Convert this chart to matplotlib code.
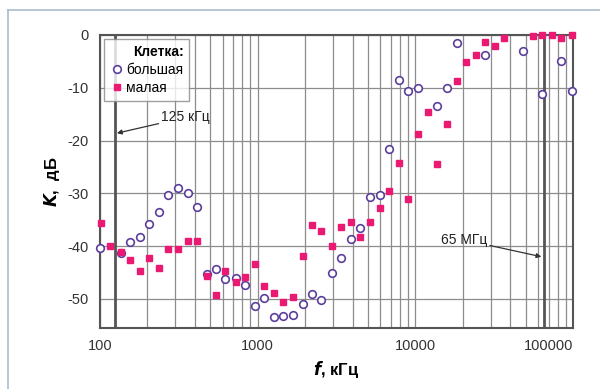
import numpy as np
import matplotlib.pyplot as plt
from matplotlib.lines import Line2D

plt.rcParams['font.family'] = ['Liberation Sans Narrow', 'Liberation Sans', 'DejaVu Sans']

# Data (kHz, dB)
f_big = [100, 135, 155, 180, 205, 237, 270, 313, 360, 414, 475, 545, 625, 725, 835,
         955, 1100, 1270, 1455, 1675, 1930, 2220, 2540, 2950, 3370, 3900, 4450, 5150,
         5960, 6850, 7850, 9050, 10400, 13700, 15950, 18300, 27600, 48200, 64000,
         84500, 98000]
k_big = [-40.3, -41.3, -39.2, -38.3, -35.8, -33.5, -30.3, -29.0, -29.9, -32.5, -45.2,
         -44.3, -46.2, -46.1, -47.4, -51.4, -49.8, -53.5, -53.2, -53.0, -51.0, -49.1,
         -50.2, -45.0, -42.3, -38.6, -36.6, -30.7, -30.4, -21.6, -8.6, -10.6, -10.1,
         -13.5, -10.1, -1.6, -3.7, -3.0, -11.2, -5.0, -10.6]

f_small = [101, 116, 135, 155, 180, 205, 237, 270, 313, 360, 414, 475, 545, 625, 725,
           835, 955, 1100, 1270, 1455, 1675, 1930, 2220, 2540, 2950, 3370, 3900, 4450,
           5150, 5960, 6850, 7900, 9000, 10400, 11950, 13700, 15950, 18300, 21000,
           24200, 27600, 31800, 36500, 55800, 64000, 73500, 84500, 98000]
k_small = [-35.7, -39.9, -41.1, -42.7, -44.7, -42.3, -44.2, -40.5, -40.6, -39.0, -39.0,
           -45.7, -49.3, -44.7, -46.7, -45.8, -43.3, -47.5, -48.9, -50.6, -49.7, -41.9,
           -35.9, -37.1, -40.0, -36.4, -35.4, -38.2, -35.4, -32.8, -29.5, -24.3, -31.1,
           -18.8, -14.5, -24.4, -16.9, -8.8, -5.1, -3.8, -1.4, -2.0, -0.6, -0.1, 0.0,
           0.0, -0.6, 0.0]

x_ticks = [100, 1000, 10000, 100000]
y_ticks = [0, -10, -20, -30, -40, -50]

fig = plt.figure(figsize=(6, 3.89), dpi=100)
ax = fig.add_axes([100/600, 61/389, 473/600, 293/389])

# outer frame of the figure
fig.add_artist(Line2D([8/600, 8/600], [0, 379/389], color='#a9bccd', lw=1.2))
fig.add_artist(Line2D([8/600, 1], [379/389, 379/389], color='#a9bccd', lw=1.2))

ax.set_xscale('log')
ax.set_xlim(100, 100000)
ax.set_ylim(-55.5, 0)

ax.grid(True, which='both', axis='x', color='#8c8c8c', lw=0.9)
ax.grid(True, which='major', axis='y', color='#8c8c8c', lw=0.9)
ax.set_axisbelow(True)

ax.axvline(125, color='#555555', lw=2)
ax.axvline(65000, color='#555555', lw=2)

ax.plot(f_big, k_big, 'o', ms=5.5, mfc='white', mec='#5b3f9c', mew=1.2,
        ls='none', label='большая', clip_on=False, zorder=3)
ax.plot(f_small, k_small, 's', ms=4.5, color='#ea1a72', ls='none',
        label='малая', clip_on=False, zorder=3)

ax.annotate('125 кГц', xy=(128, -18.6), xytext=(245, -15.6), fontsize=10,
            va='center', ha='left', color='#222222',
            arrowprops=dict(arrowstyle='-|>', color='#333333', lw=0.9,
                            mutation_scale=7, shrinkA=0, shrinkB=0))
ax.annotate('65 МГц', xy=(63000, -42.0), xytext=(14500, -38.8), fontsize=10,
            va='center', ha='left', color='#222222',
            arrowprops=dict(arrowstyle='-|>', color='#333333', lw=0.9,
                            mutation_scale=7, shrinkA=0, shrinkB=0))

ax.set_xticks(x_ticks)
ax.set_xticklabels([str(v) for v in x_ticks])
ax.xaxis.set_minor_formatter(plt.NullFormatter())
ax.set_yticks(y_ticks)
ax.set_yticklabels([str(v) for v in y_ticks])
ax.tick_params(which='both', length=0, labelsize=10.5, colors='#333333', pad=8)
ax.get_xticklabels()[-1].set_ha('right')

for s in ax.spines.values():
    s.set_color('#555555')
    s.set_linewidth(1.5)

ax.set_xlabel(r'$\boldsymbol{f}$, кГц', fontsize=12, fontweight='bold', labelpad=4)
ax.set_ylabel(r'$\boldsymbol{K}$,  дБ', fontsize=12, fontweight='bold', labelpad=4)

leg = ax.legend(loc='upper left', title='Клетка:', fontsize=10, frameon=True,
                fancybox=False, edgecolor='#888888', borderaxespad=0.3,
                handletextpad=0.2, handlelength=1.0, borderpad=0.4,
                labelspacing=0.3, alignment='right')
leg.get_title().set_fontweight('bold')
leg.get_title().set_fontsize(10)
leg.get_frame().set_linewidth(1.0)

fig.savefig('out.png', dpi=100)
